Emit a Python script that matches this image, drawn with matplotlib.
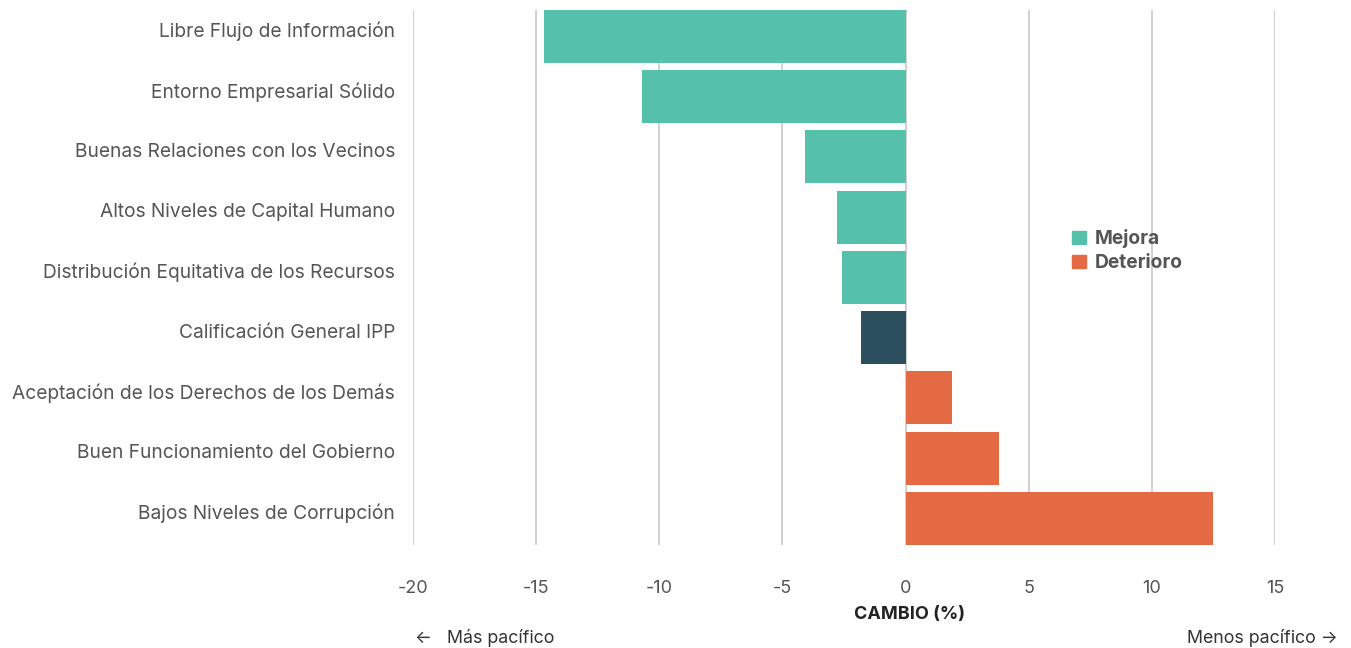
import matplotlib

matplotlib.use("Agg")
import matplotlib.pyplot as plt
from matplotlib.patches import Patch
from matplotlib.transforms import ScaledTranslation, blended_transform_factory

categories = [
    "Libre Flujo de Información",
    "Entorno Empresarial Sólido",
    "Buenas Relaciones con los Vecinos",
    "Altos Niveles de Capital Humano",
    "Distribución Equitativa de los Recursos",
    "Calificación General IPP",
    "Aceptación de los Derechos de los Demás",
    "Buen Funcionamiento del Gobierno",
    "Bajos Niveles de Corrupción",
]
change = [-14.7, -10.7, -4.1, -2.8, -2.6, -1.8, 1.9, 3.8, 12.5]
overall = "Calificación General IPP"
ticks = [-20, -15, -10, -5, 0, 5, 10, 15]

TEAL = "#56c1aa"
ORANGE = "#e36a42"
DARK = "#2c4f5e"
GREY = "#555555"

plt.rcParams["font.family"] = ["Inter", "DejaVu Sans"]

fig = plt.figure(figsize=(13.51, 6.48), dpi=100)
ax = fig.add_axes([0.3057, 0.159, 0.6381, 0.8256])

colors = []
for name, v in zip(categories, change):
    if name == overall:
        colors.append(DARK)
    elif v < 0:
        colors.append(TEAL)
    else:
        colors.append(ORANGE)

y = list(range(len(categories)))
ax.barh(y, change, height=0.88, color=colors, zorder=2)
ax.set_ylim(len(categories) - 0.56, -0.44)
ax.set_xlim(-20, 15)

ax.set_yticks(y, categories)
ax.set_xticks(ticks, [str(t) for t in ticks])
ax.tick_params(axis="y", length=0, pad=13, labelsize=13.8, labelcolor=GREY)
ax.tick_params(axis="x", length=0, pad=25, labelsize=13, labelcolor=GREY)
# the category labels sit a little above the bar centres
shift = ScaledTranslation(0, 5 / 72, fig.dpi_scale_trans)
for lab in ax.get_yticklabels():
    lab.set_transform(lab.get_transform() + shift)
for s in ax.spines.values():
    s.set_visible(False)
ax.grid(axis="x", color="#c8c8c8", linewidth=1.2, zorder=0)
ax.set_axisbelow(True)

trans = blended_transform_factory(ax.transData, fig.transFigure)
ax.text(0.15, 0.052, "CAMBIO (%)", transform=trans, ha="center", va="center",
        fontsize=13, fontweight="bold", color="#222222")
fig.text(0.3075, 0.016, "←   Más pacífico", ha="left", va="center",
         fontsize=12.8, color="#333333")
fig.text(0.99, 0.016, "Menos pacífico →", ha="right", va="center",
         fontsize=12.8, color="#333333")

handles = [Patch(color=TEAL, label="Mejora"), Patch(color=ORANGE, label="Deterioro")]
leg = ax.legend(handles=handles, loc="center left", bbox_to_anchor=(0.745, 0.55),
                frameon=False, handlelength=0.7, handleheight=0.7,
                handletextpad=0.45, labelspacing=0.3,
                prop={"weight": "bold", "size": 13.8})
for t in leg.get_texts():
    t.set_color(GREY)

fig.savefig("out.png", dpi=100)
